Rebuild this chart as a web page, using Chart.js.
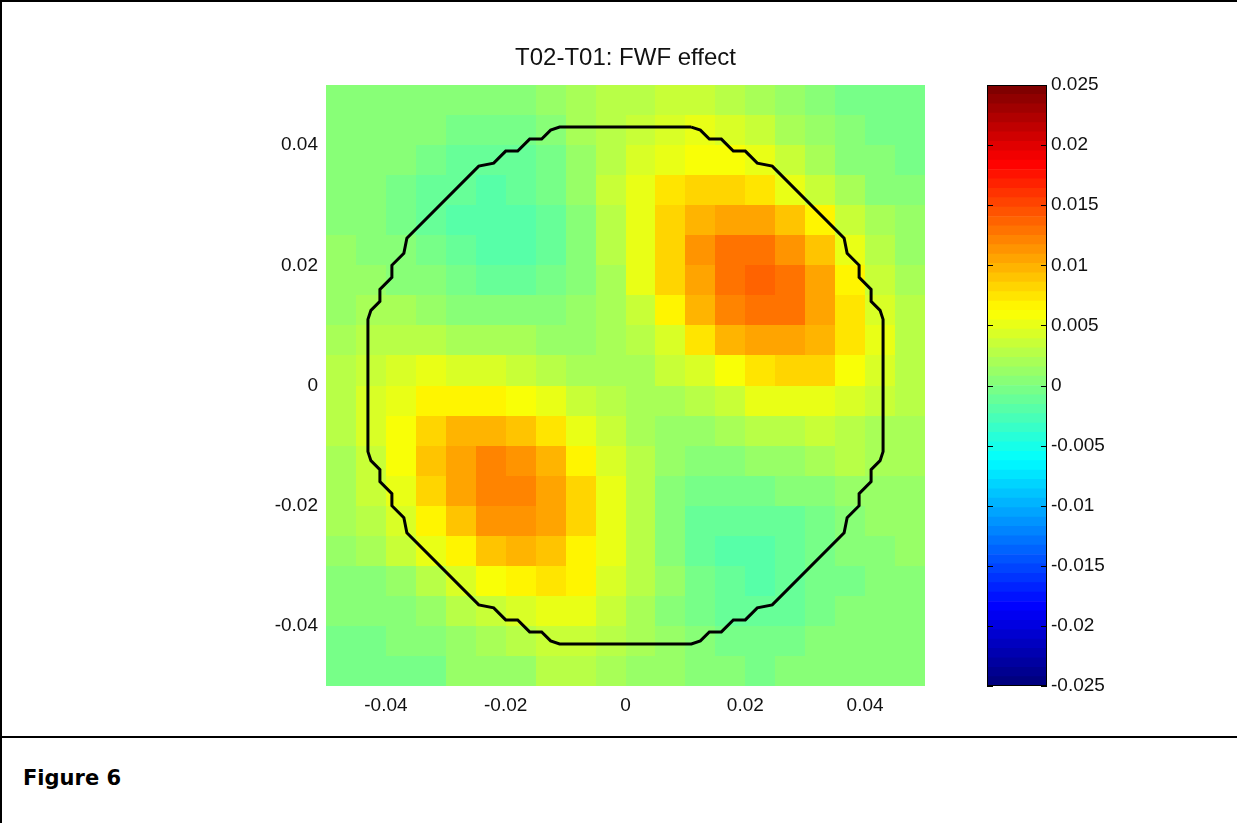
<!DOCTYPE html>
<html>
<head>
<meta charset="utf-8">
<title>T02-T01: FWF effect</title>
<script src="https://cdn.jsdelivr.net/npm/chart.js@4.4.0/dist/chart.umd.min.js"></script>
<style>
    body { margin: 0; background: #fff; width: 1237px; height: 823px; overflow: hidden; position: relative; }
    #mapChart { position: absolute; left: 0; top: 0; }
    #barChart { position: absolute; left: 960px; top: 0; }
    .rule { position: absolute; background: #000; }
    #caption { position: absolute; left: 23px; top: 766px; line-height: 21px; font: bold 21px "DejaVu Sans", Verdana, sans-serif; color: #000; }
</style>
</head>
<body>
<canvas id="mapChart" width="960" height="740"></canvas>
<canvas id="barChart" width="277" height="740"></canvas>
<div class="rule" style="left:0;top:0;width:1237px;height:2px"></div>
<div class="rule" style="left:0;top:0;width:2px;height:823px"></div>
<div class="rule" style="left:0;top:736px;width:1237px;height:2px"></div>
<div id="caption">Figure 6</div>

<script>
// ===== DADOS =====
const titleText = 'T02-T01: FWF effect';

const xTicks = [-0.04, -0.02, 0, 0.02, 0.04];
const xTickLabels = ['-0.04', '-0.02', '0', '0.02', '0.04'];
const yTicks = [-0.04, -0.02, 0, 0.02, 0.04];
const yTickLabels = ['-0.04', '-0.02', '0', '0.02', '0.04'];

const colorTicks = [-0.025, -0.02, -0.015, -0.01, -0.005, 0, 0.005, 0.01, 0.015, 0.02, 0.025];
const colorTickLabels = ['-0.025', '-0.02', '-0.015', '-0.01', '-0.005', '0', '0.005', '0.01', '0.015', '0.02', '0.025'];
const colorMin = -0.025;
const colorMax = 0.025;

// centros das células (x da esquerda p/ direita, y de cima p/ baixo)
const gridX = [-0.0475, -0.0425, -0.0375, -0.0325, -0.0275, -0.0225, -0.0175, -0.0125, -0.0075, -0.0025,
               0.0025, 0.0075, 0.0125, 0.0175, 0.0225, 0.0275, 0.0325, 0.0375, 0.0425, 0.0475];
const gridY = [0.0475, 0.0425, 0.0375, 0.0325, 0.0275, 0.0225, 0.0175, 0.0125, 0.0075, 0.0025,
               -0.0025, -0.0075, -0.0125, -0.0175, -0.0225, -0.0275, -0.0325, -0.0375, -0.0425, -0.0475];

// diferença T02-T01, em unidades de 0.001
const valueUnit = 0.001;
const diffRows = [
    [0.7, 0.6, 0.5, 0.3, 0.2, 0.2, 0.3, 1.0, 2.1, 2.6, 3.0, 3.3, 3.4, 2.8, 2.1, 1.4, 0.7, -0.4, -0.5, -0.5],
    [0.7, 0.5, 0.3, 0.0, -0.3, -0.4, -0.2, 0.7, 2.1, 3.0, 3.9, 4.5, 4.7, 4.2, 3.3, 2.3, 1.3, 0.0, -0.3, -0.5],
    [0.6, 0.4, 0.0, -0.5, -0.9, -1.0, -0.8, -0.1, 1.4, 2.8, 4.2, 5.4, 6.0, 5.5, 4.9, 3.3, 2.3, 0.7, 0.2, -0.2],
    [0.5, 0.2, -0.3, -0.9, -1.4, -1.6, -1.4, -0.5, 1.3, 3.2, 5.1, 7.2, 8.5, 8.4, 7.7, 5.4, 3.8, 1.8, 0.7, 0.1],
    [0.7, 0.4, -0.1, -0.8, -1.8, -2.1, -1.8, -0.9, 0.7, 2.6, 5.1, 7.9, 9.9, 10.7, 10.3, 8.6, 6.4, 3.3, 1.8, 0.8],
    [0.9, 0.6, 0.1, -0.5, -1.4, -1.8, -1.6, -0.8, 0.6, 2.5, 5.1, 8.5, 11.0, 12.6, 12.6, 11.0, 8.6, 4.9, 2.8, 1.4],
    [1.1, 1.0, 0.7, 0.2, -0.7, -1.0, -1.0, -0.4, 0.7, 2.2, 4.7, 8.0, 10.9, 12.9, 13.5, 12.5, 10.2, 6.6, 3.8, 2.0],
    [1.5, 1.6, 1.6, 1.3, 0.7, 0.3, 0.1, 0.3, 1.0, 2.0, 3.8, 6.6, 9.5, 11.8, 12.8, 12.5, 10.8, 7.3, 4.4, 2.5],
    [1.9, 2.4, 2.8, 2.9, 2.3, 2.0, 1.6, 1.3, 1.3, 1.7, 2.9, 4.5, 7.1, 9.4, 10.8, 10.9, 9.8, 7.5, 4.9, 3.0],
    [2.4, 3.2, 4.1, 4.8, 4.6, 4.3, 3.6, 2.9, 2.3, 1.8, 2.2, 3.2, 4.5, 6.1, 7.8, 8.5, 7.9, 6.0, 4.4, 2.8],
    [2.8, 4.0, 5.4, 6.6, 6.9, 6.9, 6.1, 4.8, 3.5, 2.4, 1.9, 2.1, 2.8, 3.7, 4.7, 5.3, 5.4, 4.4, 3.4, 2.4],
    [2.9, 4.4, 6.2, 8.4, 9.5, 10.0, 9.2, 7.4, 5.0, 3.2, 2.0, 1.4, 1.4, 1.8, 2.4, 3.0, 3.3, 2.8, 2.3, 1.7],
    [2.3, 3.8, 5.9, 8.7, 10.7, 11.9, 11.4, 9.5, 6.6, 4.3, 2.4, 1.2, 0.5, 0.7, 1.0, 1.5, 1.9, 2.4, 2.3, 2.0],
    [2.0, 3.4, 5.4, 8.2, 10.7, 12.2, 12.2, 10.6, 8.0, 5.0, 2.6, 0.7, -0.2, -0.5, -0.5, 0.1, 0.6, 1.3, 1.5, 1.5],
    [1.6, 2.7, 4.4, 6.5, 9.3, 11.0, 11.5, 10.5, 8.3, 5.2, 2.6, 0.5, -0.9, -1.3, -1.3, -0.9, -0.3, 0.6, 1.0, 1.1],
    [1.2, 2.0, 3.2, 4.9, 6.7, 8.7, 9.5, 9.0, 7.0, 4.8, 2.4, 0.3, -1.2, -1.8, -1.9, -1.4, -0.7, 0.2, 0.7, 0.9],
    [0.2, 0.7, 1.5, 2.6, 4.5, 5.7, 6.4, 7.2, 6.3, 4.6, 2.7, 0.8, -0.6, -1.5, -1.6, -1.2, -0.5, -0.1, 0.4, 0.6],
    [0.0, 0.2, 0.7, 1.4, 2.7, 3.6, 4.2, 5.2, 4.7, 3.6, 2.2, 0.7, -0.4, -1.2, -1.2, -0.9, -0.4, 0.0, 0.4, 0.6],
    [-0.3, -0.2, 0.0, 0.4, 1.5, 2.0, 2.4, 3.8, 3.6, 3.0, 1.7, 0.8, 0.0, -0.6, -0.7, -0.5, 0.0, 0.0, 0.3, 0.5],
    [-0.4, -0.3, -0.2, -0.1, 0.8, 1.0, 1.3, 2.7, 2.6, 2.3, 1.5, 0.9, 0.5, 0.0, -0.1, 0.1, 0.4, 0.2, 0.4, 0.5]
];

// contorno (polígono fechado)
const contourX = [0.011, -0.011, -0.0125, -0.014, -0.016, -0.018, -0.020, -0.022, -0.0245, -0.0365, -0.037, -0.039, -0.039, -0.041, -0.041, -0.0425, -0.043,
    -0.043, -0.0425, -0.041, -0.041, -0.039, -0.039, -0.037, -0.0365, -0.0245, -0.022, -0.020, -0.018, -0.016, -0.014, -0.0125, -0.011,
    0.011, 0.0125, 0.014, 0.016, 0.018, 0.020, 0.022, 0.0245, 0.0365, 0.037, 0.039, 0.039, 0.041, 0.041, 0.0425, 0.043,
    0.043, 0.0425, 0.041, 0.041, 0.039, 0.039, 0.037, 0.0365, 0.0245, 0.022, 0.020, 0.018, 0.016, 0.014, 0.0125, 0.011];
const contourY = [0.043, 0.043, 0.0425, 0.041, 0.041, 0.039, 0.039, 0.037, 0.0365, 0.0245, 0.022, 0.020, 0.018, 0.016, 0.014, 0.0125, 0.011,
    -0.011, -0.0125, -0.014, -0.016, -0.018, -0.020, -0.022, -0.0245, -0.0365, -0.037, -0.039, -0.039, -0.041, -0.041, -0.0425, -0.043,
    -0.043, -0.0425, -0.041, -0.041, -0.039, -0.039, -0.037, -0.0365, -0.0245, -0.022, -0.020, -0.018, -0.016, -0.014, -0.0125, -0.011,
    0.011, 0.0125, 0.014, 0.016, 0.018, 0.020, 0.022, 0.0245, 0.0365, 0.037, 0.039, 0.039, 0.041, 0.041, 0.0425, 0.043];

// ===== CORES (jet, 64 níveis) =====
const levels = 64;

function jet(t) {
    const clamp = v => Math.max(0, Math.min(1, v));
    const r = clamp(1.5 - Math.abs(4 * t - 3));
    const g = clamp(1.5 - Math.abs(4 * t - 2));
    const b = clamp(1.5 - Math.abs(4 * t - 1));
    return `rgb(${Math.round(r * 255)},${Math.round(g * 255)},${Math.round(b * 255)})`;
}

function levelColor(value) {
    let k = Math.floor((value - colorMin) / (colorMax - colorMin) * levels);
    k = Math.max(0, Math.min(levels - 1, k));
    return jet(k / (levels - 1));
}

const tickFont = { family: '"Liberation Sans", Arial, sans-serif', size: 19 };

// ===== PLUGINS =====
const heatmapPlugin = {
    id: 'heatmap',
    beforeDatasetsDraw(chart) {
        const { ctx, chartArea, scales: { x, y } } = chart;
        const halfX = (gridX[1] - gridX[0]) / 2;
        const halfY = (gridY[0] - gridY[1]) / 2;
        ctx.save();
        ctx.beginPath();
        ctx.rect(chartArea.left, chartArea.top, chartArea.width, chartArea.height);
        ctx.clip();
        diffRows.forEach((row, r) => {
            row.forEach((val, c) => {
                const left = Math.round(x.getPixelForValue(gridX[c] - halfX));
                const right = Math.round(x.getPixelForValue(gridX[c] + halfX));
                const top = Math.round(y.getPixelForValue(gridY[r] + halfY));
                const bottom = Math.round(y.getPixelForValue(gridY[r] - halfY));
                ctx.fillStyle = levelColor(val * valueUnit);
                ctx.fillRect(left, top, right - left, bottom - top);
            });
        });
        ctx.restore();
    }
};

const colorbarFrame = {
    id: 'colorbarFrame',
    afterDatasetsDraw(chart) {
        const { ctx, chartArea, scales: { y } } = chart;
        ctx.save();
        ctx.strokeStyle = '#000';
        ctx.lineWidth = 1;
        ctx.beginPath();
        colorTicks.forEach(v => {
            const py = Math.round(y.getPixelForValue(v)) + 0.5;
            ctx.moveTo(chartArea.left, py);
            ctx.lineTo(chartArea.left + 6, py);
            ctx.moveTo(chartArea.right - 6, py);
            ctx.lineTo(chartArea.right, py);
        });
        ctx.stroke();
        ctx.strokeRect(Math.round(chartArea.left) + 0.5, Math.round(chartArea.top) + 0.5,
            Math.round(chartArea.width) - 1, Math.round(chartArea.height) - 1);
        ctx.restore();
    }
};

// ===== GRÁFICO PRINCIPAL =====
function initMap() {
    const points = contourX.map((x, i) => ({ x: x, y: contourY[i] }));

    new Chart(document.getElementById('mapChart'), {
        type: 'scatter',
        data: {
            datasets: [{
                data: points,
                showLine: true,
                borderColor: '#000',
                borderWidth: 3,
                pointRadius: 0,
                tension: 0,
                fill: false
            }]
        },
        options: {
            responsive: false,
            animation: false,
            layout: { padding: { top: 44, left: 0, right: 35, bottom: 0 } },
            plugins: {
                legend: { display: false },
                tooltip: { enabled: false },
                title: {
                    display: true,
                    text: titleText,
                    fullSize: false,
                    color: '#111',
                    font: { family: '"Liberation Sans", Arial, sans-serif', size: 24, weight: 'normal', lineHeight: 1.2 },
                    padding: { top: 0, bottom: 12.2 }
                }
            },
            scales: {
                x: {
                    type: 'linear',
                    min: -0.05,
                    max: 0.05,
                    afterBuildTicks: axis => { axis.ticks = xTicks.map(v => ({ value: v })); },
                    afterFit: axis => { axis.height = 54; },
                    grid: { display: false, drawTicks: false },
                    border: { display: false },
                    ticks: {
                        padding: 8,
                        color: '#111',
                        font: tickFont,
                        maxRotation: 0,
                        autoSkip: false,
                        callback: (v, i) => xTickLabels[i]
                    }
                },
                y: {
                    type: 'linear',
                    min: -0.05,
                    max: 0.05,
                    afterBuildTicks: axis => { axis.ticks = yTicks.map(v => ({ value: v })); },
                    afterFit: axis => { axis.width = 326; },
                    grid: { display: false, drawTicks: false },
                    border: { display: false },
                    ticks: {
                        padding: 8,
                        color: '#111',
                        font: tickFont,
                        autoSkip: false,
                        callback: (v, i) => yTickLabels[i]
                    }
                }
            }
        },
        plugins: [heatmapPlugin]
    });
}

// ===== BARRA DE CORES =====
function initColorbar() {
    const bands = [];
    for (let k = 0; k < levels; k++) {
        const lo = colorMin + (colorMax - colorMin) * k / levels;
        const hi = colorMin + (colorMax - colorMin) * (k + 1) / levels;
        bands.push({
            data: [[lo, hi]],
            backgroundColor: jet(k / (levels - 1)),
            borderWidth: 0,
            barPercentage: 1,
            categoryPercentage: 1,
            grouped: false
        });
    }

    new Chart(document.getElementById('barChart'), {
        type: 'bar',
        data: { labels: ['cb'], datasets: bands },
        options: {
            responsive: false,
            animation: false,
            layout: { padding: { top: 85, left: 27, right: 0, bottom: 54 } },
            plugins: { legend: { display: false }, tooltip: { enabled: false } },
            scales: {
                x: { display: false },
                y: {
                    position: 'right',
                    min: colorMin,
                    max: colorMax,
                    afterBuildTicks: axis => { axis.ticks = colorTicks.map(v => ({ value: v })); },
                    afterFit: axis => { axis.width = 190; },
                    grid: { display: false, drawTicks: false },
                    border: { display: false },
                    ticks: {
                        padding: 4,
                        color: '#111',
                        font: tickFont,
                        autoSkip: false,
                        callback: (v, i) => colorTickLabels[i]
                    }
                }
            }
        },
        plugins: [colorbarFrame]
    });
}

initMap();
initColorbar();
</script>
</body>
</html>
